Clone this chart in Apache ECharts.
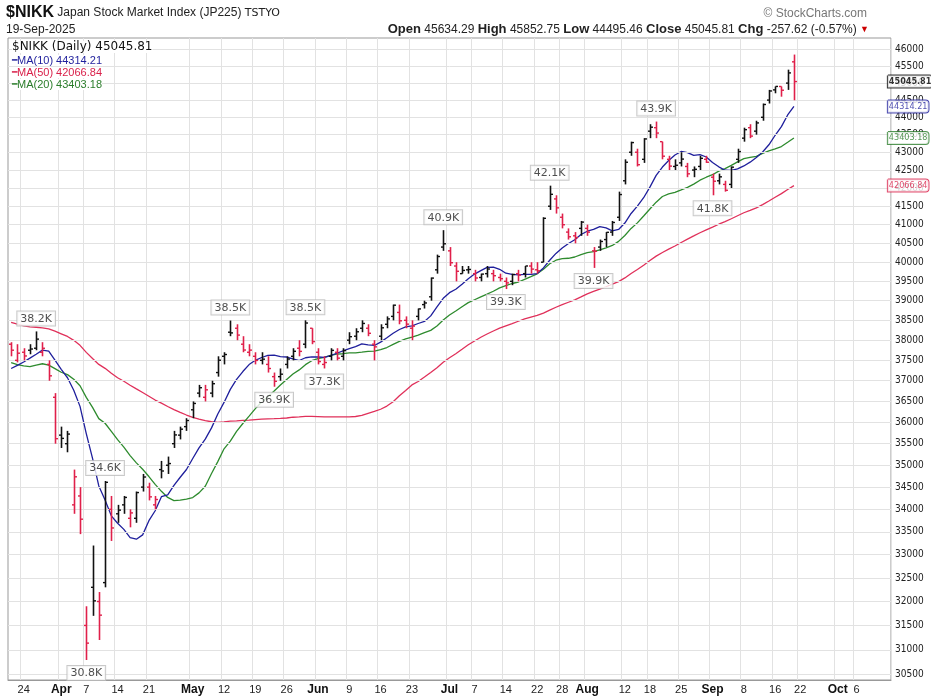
<!DOCTYPE html>
<html><head><meta charset="utf-8">
<script src="https://cdn.jsdelivr.net/npm/echarts@6/dist/echarts.min.js"></script>
<style>html,body{margin:0;padding:0;background:#fff}#c{width:931px;height:699px}</style>
</head><body><div id="c"></div>
<script>
const dates = ['2025-03-19','2025-03-21','2025-03-24','2025-03-25','2025-03-26','2025-03-27','2025-03-28','2025-03-31',
'2025-04-01','2025-04-02','2025-04-03','2025-04-04','2025-04-07','2025-04-08','2025-04-09','2025-04-10','2025-04-11','2025-04-14','2025-04-15','2025-04-16','2025-04-17','2025-04-18','2025-04-21','2025-04-22','2025-04-23','2025-04-24','2025-04-25','2025-04-28','2025-04-30',
'2025-05-01','2025-05-02','2025-05-07','2025-05-08','2025-05-09','2025-05-12','2025-05-13','2025-05-14','2025-05-15','2025-05-16','2025-05-19','2025-05-20','2025-05-21','2025-05-22','2025-05-23','2025-05-26','2025-05-27','2025-05-28','2025-05-29','2025-05-30',
'2025-06-02','2025-06-03','2025-06-04','2025-06-05','2025-06-06','2025-06-09','2025-06-10','2025-06-11','2025-06-12','2025-06-13','2025-06-16','2025-06-17','2025-06-18','2025-06-19','2025-06-20','2025-06-23','2025-06-24','2025-06-25','2025-06-26','2025-06-27','2025-06-30',
'2025-07-01','2025-07-02','2025-07-03','2025-07-04','2025-07-07','2025-07-08','2025-07-09','2025-07-10','2025-07-11','2025-07-14','2025-07-15','2025-07-16','2025-07-17','2025-07-18','2025-07-22','2025-07-23','2025-07-24','2025-07-25','2025-07-28','2025-07-29','2025-07-30','2025-07-31',
'2025-08-01','2025-08-04','2025-08-05','2025-08-06','2025-08-07','2025-08-08','2025-08-12','2025-08-13','2025-08-14','2025-08-15','2025-08-18','2025-08-19','2025-08-20','2025-08-21','2025-08-22','2025-08-25','2025-08-26','2025-08-27','2025-08-28','2025-08-29',
'2025-09-01','2025-09-02','2025-09-03','2025-09-04','2025-09-05','2025-09-08','2025-09-09','2025-09-10','2025-09-11','2025-09-12','2025-09-16','2025-09-17','2025-09-18','2025-09-19'];
const futureDates = ['2025-09-22','2025-09-24','2025-09-25','2025-09-26','2025-09-29','2025-09-30','2025-10-01','2025-10-02','2025-10-03','2025-10-06','2025-10-07','2025-10-08','2025-10-09','2025-10-10','2025-10-14'];
const opens = [37900,37500,37700,37750,37800,37700,37400,36600,
35700,35500,34100,34300,31500,32300,32000,32400,34000,33900,34100,33800,33800,34500,34500,34100,34900,35000,35500,35700,35900,
36300,36700,36600,36700,37200,37600,38200,38300,37900,37700,37600,37500,37400,37100,37100,37400,37600,37800,37900,38300,
37700,37400,37600,37700,37600,38000,38100,38300,38300,37900,38100,38400,38600,38700,38500,38300,38600,38900,39100,39800,40400,
40300,39900,39700,39800,39700,39600,39700,39700,39600,39500,39500,39700,39700,39900,39800,40000,41500,41700,41200,40800,40700,40900,
40900,40300,40400,40600,40800,41200,42200,43000,43000,42800,43600,43700,43300,42800,42600,42700,42600,42500,42600,42800,
42300,42200,42100,42100,42800,43400,43700,43600,44000,44500,44800,44900,45000,45634.29];
const highs = [37950,37900,37800,37900,38220,37950,37500,36700,
35900,35800,34900,34500,31900,33200,32200,34639,34300,34100,34300,34000,34400,34800,34600,34300,35100,35200,35800,35900,36100,
36500,36900,36900,37000,37600,37700,38494,38400,38100,37900,37700,37700,37600,37200,37300,37600,37800,38000,38500,38300,
37800,37600,37800,37800,37800,38200,38300,38500,38400,38000,38400,38600,38900,38900,38600,38500,38800,39000,39600,40200,40852,
40400,40000,39900,39900,39800,39700,39900,39800,39700,39600,39700,39800,39900,40000,40000,41200,42065,41800,41300,40900,40800,41100,
41000,40400,40600,40800,41100,41900,42800,43300,43100,43400,43800,43876,43300,42900,42800,43000,42700,42600,42900,42900,
42400,42400,42200,42600,43100,43700,43800,43900,44400,44800,44900,44900,45400,45852.75];
const lows = [37600,37450,37500,37650,37750,37600,37000,35500,
35400,35300,33900,33450,30792,31700,31200,32300,33300,33700,33900,33600,33700,34400,34200,34000,34700,34800,35400,35600,35800,
36100,36600,36500,36600,37100,37400,38100,38000,37700,37600,37400,37400,37200,36855,37000,37300,37500,37600,37800,37900,
37400,37300,37500,37500,37500,37900,38000,38200,38100,37500,38000,38300,38500,38400,38300,38000,38500,38800,39000,39700,40300,
39900,39500,39700,39700,39500,39500,39600,39500,39500,39300,39400,39500,39600,39700,39700,40000,41400,41300,40900,40600,40500,40700,
40700,39850,40300,40400,40700,41100,42100,42900,42600,42700,43400,43400,42800,42500,42500,42600,42300,42300,42500,42700,
41800,42100,41900,42000,42700,43300,43400,43500,43900,44400,44700,44600,44800,44495.46];
const closes = [37751,37677,37608,37780,38027,37799,37120,35617,
35624,35725,34735,33780,31136,32014,31714,34609,33586,33982,34267,33920,34377,34730,34280,34220,34868,35039,35705,35840,36045,
36452,36831,36780,36928,37503,37644,38183,38128,37755,37753,37498,37529,37299,36986,37160,37532,37724,37722,38432,37965,
37470,37446,37747,37554,37741,38088,38211,38421,38173,37834,38311,38536,38885,38488,38403,38354,38790,38942,39584,40150,40487,
39986,39762,39785,39810,39587,39688,39821,39646,39569,39459,39678,39663,39901,39819,39774,41171,41826,41456,40998,40674,40654,41069,
40799,40290,40549,40794,41059,41820,42718,43274,42649,43378,43714,43546,42888,42610,42633,42807,42394,42520,42829,42718,
42188,42310,41938,42580,43018,43643,43459,43837,44372,44768,44902,44790,45303,45045.81];
const priorCloses = [39981,39606,39190,38474,38444,38572,38451,38902,39027,39646,39958,39931,39565,39016,39414,39513,39572,
38520,38798,38831,39066,38787,38801,38627,38963,39461,39149,39174,39270,38776,38678,38237,38142,37256,37155,
37785,37331,37418,36887,37028,36888,36793,36819,37053,36790,37397,37846,37845,37800];
const yTicks = [30500,31000,31500,32000,32500,33000,33500,34000,34500,35000,35500,36000,36500,37000,37500,38000,38500,39000,39500,40000,40500,41000,41500,42000,42500,43000,43500,44000,44500,45000,45500,46000];
const axisMarks = {'2025-03-24':'24','2025-04-01':'Apr','2025-04-07':'7','2025-04-14':'14','2025-04-21':'21','2025-05-01':'May','2025-05-12':'12','2025-05-19':'19','2025-05-26':'26','2025-06-02':'Jun','2025-06-09':'9','2025-06-16':'16','2025-06-23':'23','2025-07-01':'Jul','2025-07-07':'7','2025-07-14':'14','2025-07-22':'22','2025-07-28':'28','2025-08-01':'Aug','2025-08-12':'12','2025-08-18':'18','2025-08-25':'25','2025-09-01':'Sep','2025-09-08':'8','2025-09-16':'16','2025-09-22':'22','2025-10-01':'Oct','2025-10-06':'6'};
const peaks = [['2025-03-26',38220,'38.2K','top'],['2025-04-07',30792,'30.8K','bottom'],['2025-04-10',34639,'34.6K','top'],['2025-05-13',38494,'38.5K','top'],['2025-05-22',36855,'36.9K','bottom'],['2025-05-29',38500,'38.5K','top'],['2025-06-03',37300,'37.3K','bottom'],['2025-06-30',40852,'40.9K','top'],['2025-07-14',39300,'39.3K','bottom'],['2025-07-24',42065,'42.1K','top'],['2025-08-04',39850,'39.9K','bottom'],['2025-08-19',43876,'43.9K','top'],['2025-09-01',41800,'41.8K','bottom']];

const cats = dates.concat(futureDates);
const all = priorCloses.concat(closes);
function ma(n){return closes.map((c,i)=>{const j=i+priorCloses.length;let s=0;for(let k=j-n+1;k<=j;k++)s+=all[k];return +(s/n).toFixed(2);});}
const ma10=ma(10), ma20=ma(20), ma50=ma(50);
const ohlc = dates.map((d,i)=>[i,opens[i],highs[i],lows[i],closes[i],i===0?(closes[0]<37845?0:1):(closes[i]<closes[i-1]?0:1)]);
const isMark=(i,v)=>axisMarks[cats[i]]!==undefined;
const FONT='"Liberation Sans Narrow","Liberation Sans",Arial,sans-serif';
const COND='"DejaVu Sans Condensed","Liberation Sans Narrow",sans-serif';
const chart = echarts.init(document.getElementById('c'));
const boxes=[[45045.81,'#000','#000',true],[44314.21,'#1f1f9c','#1f1f9c',false],[43403.18,'#2b7d2b','#2b7d2b',false],[42066.84,'#d9204a','#d9204a',false]];
chart.setOption({
  animation:false,
  textStyle:{fontFamily:FONT},
  grid:{left:8,right:40,top:38,bottom:19,show:true,borderColor:'#999',borderWidth:1},
  xAxis:{type:'category',data:cats,boundaryGap:true,
    axisLine:{lineStyle:{color:'#999'}},
    axisTick:{show:false},
    axisLabel:{interval:isMark,margin:4,fontSize:11,color:'#222',fontFamily:FONT,
      formatter:(v)=>{const t=axisMarks[v];return /^[A-Z]/.test(t)?'{b|'+t+'}':t;},
      rich:{b:{fontWeight:'bold',fontSize:12,color:'#111'}}},
    splitLine:{show:true,interval:isMark,lineStyle:{color:'#e2e2e2'}}},
  yAxis:{type:'log',logBase:10,position:'right',min:30390,max:46355,
    axisLine:{show:false},axisTick:{show:false},
    axisLabel:{customValues:yTicks,fontSize:10,color:'#222',margin:4,fontFamily:COND,formatter:(v)=>String(Math.round(v))},
    splitLine:{show:false}},
  series:[
    {type:'line',data:[],silent:true,markLine:{silent:true,symbol:'none',label:{show:false},lineStyle:{color:'#e2e2e2',type:'solid',width:1},data:yTicks.map(v=>({yAxis:v}))}},
    {type:'line',name:'MA50',data:ma50,showSymbol:false,lineStyle:{color:'#e0305a',width:1.3},itemStyle:{color:'#e0305a'},z:3},
    {type:'line',name:'MA20',data:ma20,showSymbol:false,lineStyle:{color:'#2e8b2e',width:1.3},itemStyle:{color:'#2e8b2e'},z:3},
    {type:'line',name:'MA10',data:ma10,showSymbol:false,lineStyle:{color:'#1f1f9c',width:1.3},itemStyle:{color:'#1f1f9c'},z:3},
    {type:'custom',data:ohlc,z:5,encode:{x:0,y:[1,2,3,4]},
      renderItem:(params,api)=>{
        const x=api.value(0);const o=api.coord([x,api.value(1)]),h=api.coord([x,api.value(2)]),l=api.coord([x,api.value(3)]),c=api.coord([x,api.value(4)]);
        const col=api.value(5)?'#111':'#e0204a';const cx=Math.round(h[0])+0.5;
        return {type:'group',children:[
          {type:'line',shape:{x1:cx,y1:h[1],x2:cx,y2:l[1]},style:{stroke:col,lineWidth:1.6}},
          {type:'line',shape:{x1:cx-2.5,y1:o[1],x2:cx,y2:o[1]},style:{stroke:col,lineWidth:1.4}},
          {type:'line',shape:{x1:cx,y1:c[1],x2:cx+2.5,y2:c[1]},style:{stroke:col,lineWidth:1.4}}]};
      }},
    {type:'scatter',data:peaks.map(p=>({value:[p[0],p[1]],label:{position:p[3],distance:6,formatter:p[2]}})),symbolSize:0,z:6,silent:true,
      label:{show:true,fontSize:11,color:'#222',fontFamily:'"DejaVu Sans",sans-serif',backgroundColor:'#fff',borderColor:'#bbb',borderWidth:1,padding:[2,3,1,3]}},
    {type:'scatter',data:boxes.map(b=>({value:[cats[cats.length-1],b[0]],label:{formatter:b[0].toFixed(2),color:b[1],borderColor:b[2],fontWeight:b[3]?'bold':'normal'}})),
      symbolSize:0,z:10,silent:true,clip:false,
      label:{show:true,position:'right',distance:0,borderWidth:1,backgroundColor:'#fff',padding:[2,1,1,1],fontSize:9,fontFamily:COND,borderRadius:[0,3,3,0]}}
  ],
  graphic:[
    {type:'text',left:6,top:5,style:{text:'{a|$NIKK} {b|Japan Stock Market Index (JP225)} {c|TSTYO}',rich:{a:{fontSize:16,fontWeight:'bold',fontFamily:FONT,fill:'#111'},b:{fontSize:12,fontFamily:FONT,fill:'#222'},c:{fontSize:11,fontFamily:'"DejaVu Sans"',fill:'#222'}}}},
    {type:'text',left:6,top:24,style:{text:'19-Sep-2025',fontSize:12,fontFamily:FONT,fill:'#222'}},
    {type:'text',right:64,top:8,style:{text:'© StockCharts.com',fontSize:12,fontFamily:FONT,fill:'#777'}},
    {type:'text',right:62,top:23,style:{text:'{k|Open} 45634.29 {k|High} 45852.75 {k|Low} 44495.46 {k|Close} 45045.81 {k|Chg} -257.62 (-0.57%) {r|▼}',fontSize:12,fontFamily:FONT,fill:'#222',rich:{k:{fontWeight:'bold',fontSize:13,fontFamily:FONT},r:{fill:'#c00',fontSize:9}}}},
    {type:'text',left:12,top:41,z:20,style:{text:'$NIKK (Daily) 45045.81',fontSize:12,fontFamily:'"DejaVu Sans"',fill:'#111',backgroundColor:'#fff'}},
    {type:'text',left:12,top:55,z:20,style:{text:'{l|━}MA(10) 44314.21',fontSize:11,fontFamily:FONT,fill:'#1f1f9c',backgroundColor:'#fff',rich:{l:{fill:'#1f1f9c',fontSize:9}}}},
    {type:'text',left:12,top:67,z:20,style:{text:'{l|━}MA(50) 42066.84',fontSize:11,fontFamily:FONT,fill:'#d9204a',backgroundColor:'#fff',rich:{l:{fill:'#d9204a',fontSize:9}}}},
    {type:'text',left:12,top:79,z:20,style:{text:'{l|━}MA(20) 43403.18',fontSize:11,fontFamily:FONT,fill:'#2b7d2b',backgroundColor:'#fff',rich:{l:{fill:'#2b7d2b',fontSize:9}}}}
  ]
});
</script></body></html>
